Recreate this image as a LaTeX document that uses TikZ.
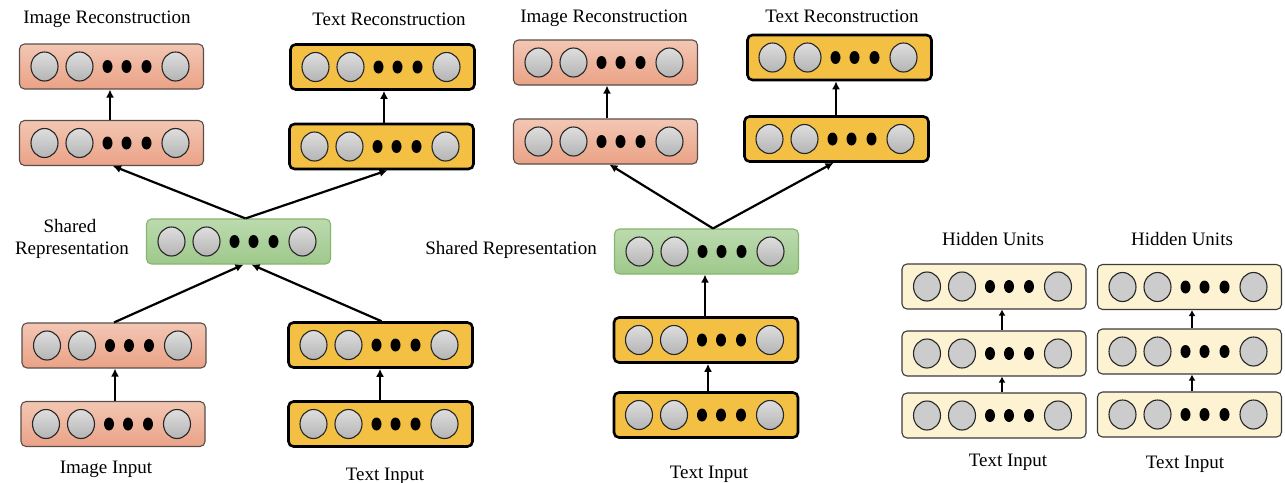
\documentclass[tikz,border=0pt]{standalone}
\usepackage{fontspec}
\setmainfont{Liberation Serif}
\usetikzlibrary{arrows.meta,calc}

\definecolor{pinktop}{HTML}{F3C7B4}
\definecolor{pinkbot}{HTML}{EAA286}
\definecolor{pinkline}{HTML}{5A4E4A}
\definecolor{yellowfill}{HTML}{F4C043}
\definecolor{greentop}{HTML}{BCDAAF}
\definecolor{greenbot}{HTML}{9EC98B}
\definecolor{greenline}{HTML}{86B56E}
\definecolor{creamfill}{HTML}{FDF2D2}
\definecolor{creamline}{HTML}{3A3A3A}
\definecolor{unittop}{HTML}{DEDEDE}
\definecolor{unitbot}{HTML}{B4B4B4}

\tikzset{
  layerbox/.style={rounded corners=5pt, minimum width=184pt, minimum height=45pt, inner sep=0pt},
  imagelayer/.style={layerbox, draw=pinkline, line width=1.1pt, top color=pinktop, bottom color=pinkbot},
  textlayer/.style={layerbox, draw=black, line width=2.6pt, fill=yellowfill},
  sharedlayer/.style={layerbox, draw=greenline, line width=1.1pt, top color=greentop, bottom color=greenbot},
  hiddenlayer/.style={layerbox, draw=creamline, line width=1.1pt, fill=creamfill},
  unit/.style={draw=black!85, line width=1.1pt, top color=unittop, bottom color=unitbot},
  flatunit/.style={draw=black!85, line width=1.1pt, fill=black!20},
  link/.style={line width=2.2pt, -{Latex[length=8pt,width=8pt]}},
  shortlink/.style={line width=2.2pt, -{Latex[length=6pt,width=7pt]}},
  caption/.style={font=\fontsize{19}{23}\selectfont, anchor=base, inner sep=0pt}
}

% A layer: rounded box holding two units, an ellipsis of dots and a last unit
\newcommand\layer[4]{%
  \node[#3] (#1) at (#2) {};
  \foreach \dx in {-67,-32,64}
    \draw[#4] ($(#1.center)+(\dx,0)$) ellipse [x radius=13.5pt, y radius=14.5pt];
  \foreach \dx in {-4,15,35}
    \fill ($(#1.center)+(\dx,0)$) ellipse [x radius=5pt, y radius=6.5pt];
}

\begin{document}
\begin{tikzpicture}[x=1pt,y=-1pt]
\useasboundingbox (0,0) rectangle (1285,482);

% ---------- bimodal autoencoder ----------
\layer{irA}{111.5,66.5}{imagelayer}{unit}
\layer{irB}{111.5,143}{imagelayer}{unit}
\layer{trA}{382.5,67}{textlayer}{unit}
\layer{trB}{381.5,146.5}{textlayer}{unit}
\layer{shA}{238.5,241.5}{sharedlayer}{unit}
\layer{iiA}{114,345.5}{imagelayer}{unit}
\layer{iiB}{113,424}{imagelayer}{unit}
\layer{tiA}{380.5,345}{textlayer}{unit}
\layer{tiB}{380.5,424}{textlayer}{unit}

\node[caption] (capIR1) at (107,23) {Image Reconstruction};
\node[caption] (capTR1) at (389,25) {Text Reconstruction};
\node[caption] (capSH1) at (70,232) {Shared};
\node[caption] (capRE1) at (72,254) {Representation};
\node[caption] (capII1) at (106,473) {Image Input};
\node[caption] (capTI1) at (385,480) {Text Input};

\draw[link] (irB.north -| 110,0) -- (irA.south -| 110,0);
\draw[link] (trB.north -| 384,0) -- (trA.south -| 384,0);
\draw[link] ($(shA.north)+(7,0)$) -- ($(irB.south)+(1.5,0)$);
\draw[link] ($(shA.north)+(7,0)$) -- ($(trB.south)+(6,0)$);
\draw[link] ($(iiA.north)+(0,0)$) -- ($(shA.south)+(5,0)$);
\draw[link] ($(tiA.north)+(1,0)$) -- ($(shA.south)+(13,0)$);
\draw[link] (iiB.north -| 115,0) -- (iiA.south -| 115,0);
\draw[link] (tiB.north -| 380,0) -- (tiA.south -| 380,0);

% ---------- text-only input, both reconstructions ----------
\layer{irC}{605.5,62.5}{imagelayer}{unit}
\layer{irD}{605.5,141.5}{imagelayer}{unit}
\layer{trC}{839.5,57.5}{textlayer}{unit}
\layer{trD}{836.5,139}{textlayer}{unit}
\layer{shB}{706.5,251.5}{sharedlayer}{unit}
\layer{tmA}{706,340}{textlayer}{unit}
\layer{tmB}{706,415}{textlayer}{unit}

\node[caption] (capIR2) at (604,22) {Image Reconstruction};
\node[caption] (capTR2) at (842,22) {Text Reconstruction};
\node[caption] (capSH2) at (511,254) {Shared Representation};
\node[caption] (capTI2) at (709,478) {Text Input};

\draw[link] (irD.north -| 607,0) -- (irC.south -| 607,0);
\draw[link] (trD.north -| 836,0) -- (trC.south -| 836,0);
\draw[link] ($(shB.north)+(6.5,0)$) -- ($(irD.south)+(4,0)$);
\draw[link] ($(shB.north)+(6.5,0)$) -- ($(trD.south)+(-3,0)$);
\draw[link] (tmA.north -| 705,0) -- (shB.south -| 705,0);
\draw[link] (tmB.north -| 708,0) -- (tmA.south -| 708,0);

% ---------- unimodal stacks ----------
\layer{hAa}{994,286.5}{hiddenlayer}{flatunit}
\layer{hAb}{994,353.5}{hiddenlayer}{flatunit}
\layer{hAc}{994,415.5}{hiddenlayer}{flatunit}
\layer{hBa}{1189.5,287}{hiddenlayer}{flatunit}
\layer{hBb}{1189.5,351.5}{hiddenlayer}{flatunit}
\layer{hBc}{1189.5,414.5}{hiddenlayer}{flatunit}

\node[caption] (capHU1) at (993,245) {Hidden Units};
\node[caption] (capHU2) at (1182,245) {Hidden Units};
\node[caption] (capTI3) at (1008,466) {Text Input};
\node[caption] (capTI4) at (1185,468) {Text Input};

\draw[shortlink] (hAb.north -| 1002,0) -- (hAa.south -| 1002,0);
\draw[shortlink] (hAc.north -| 1002,0) -- (hAb.south -| 1002,0);
\draw[shortlink] (hBb.north -| 1192,0) -- (hBa.south -| 1192,0);
\draw[shortlink] (hBc.north -| 1192,0) -- (hBb.south -| 1192,0);
\end{tikzpicture}
\end{document}
